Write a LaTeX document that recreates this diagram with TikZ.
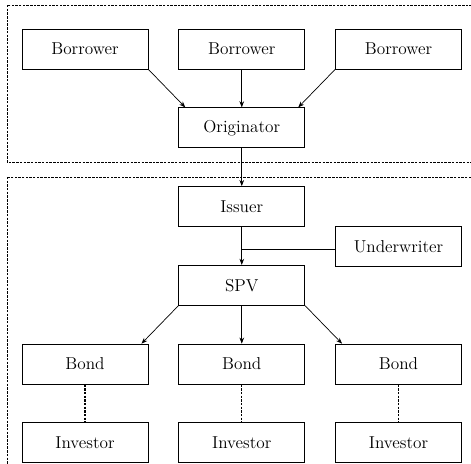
\documentclass[tikz,border=0pt]{standalone}
\usepackage{xcolor}
\usepackage{tikz}
\usetikzlibrary{arrows.meta,positioning,calc}
\tikzset{
  party/.style={draw, line width=0.5pt, minimum width=81.9pt, minimum height=26pt,
    font=\fontsize{11.2}{13.6}\selectfont},
  flow/.style={line width=0.45pt, -{Stealth[length=4pt, width=3pt]}},
  frame/.style={line width=0.5pt, dash pattern=on 1.6pt off 0.8pt},
  holds/.style={line width=0.8pt, dash pattern=on 1.6pt off 0.8pt}
}

\begin{document}
\begin{tikzpicture}
  \useasboundingbox (0,0) rectangle (306.15pt,-300.95pt);
  \clip (0,0) rectangle (306.15pt,-300.95pt);
  % origination
  \node[party] (borrowA) at (55.25pt,-31.85pt) {Borrower};
  \node[party, right=19.5pt of borrowA] (borrowB) {Borrower};
  \node[party, right=19.5pt of borrowB] (borrowC) {Borrower};
  \node[party, below=24.7pt of borrowB] (orig) {Originator};
  % issuance
  \node[party, below=24.7pt of orig] (issuer) {Issuer};
  \node[party, below=24.7pt of issuer] (spv) {SPV};
  \node[party, below right=-0.5pt and 19.5pt of issuer] (under) {Underwriter};
  \coordinate (join) at ($(issuer.south)!0.6!(spv.north)$);
  \node[party, below=24.7pt of spv] (bondB) {Bond};
  \node[party, left=19.5pt of bondB] (bondA) {Bond};
  \node[party, right=19.5pt of bondB] (bondC) {Bond};
  \node[party, below=24.7pt of bondA] (invA) {Investor};
  \node[party, below=24.7pt of bondB] (invB) {Investor};
  \node[party, below=24.7pt of bondC] (invC) {Investor};

  \draw[frame] (4.55pt,-3.25pt) rectangle (320pt,-105.3pt);
  \draw[frame] (4.55pt,-115pt) rectangle (320pt,-320pt);

  \draw[flow] (borrowA.south east) -- ([xshift=4.5pt]orig.north west);
  \draw[flow] (borrowB) -- (orig);
  \draw[flow] (borrowC.south west) -- ([xshift=-4.5pt]orig.north east);
  \draw[flow] (orig) -- (issuer);
  \draw[flow] (issuer) -- (spv);
  \draw[line width=0.45pt] (join -| under.west) -- (join);
  \draw[flow] (spv.south west) -- ([xshift=-4.5pt]bondA.north east);
  \draw[flow] (spv) -- (bondB);
  \draw[flow] (spv.south east) -- ([xshift=4.5pt]bondC.north west);
  \foreach \b/\i in {bondA/invA, bondB/invB, bondC/invC}
    \draw[holds] (\b) -- (\i);
\end{tikzpicture}
\end{document}
